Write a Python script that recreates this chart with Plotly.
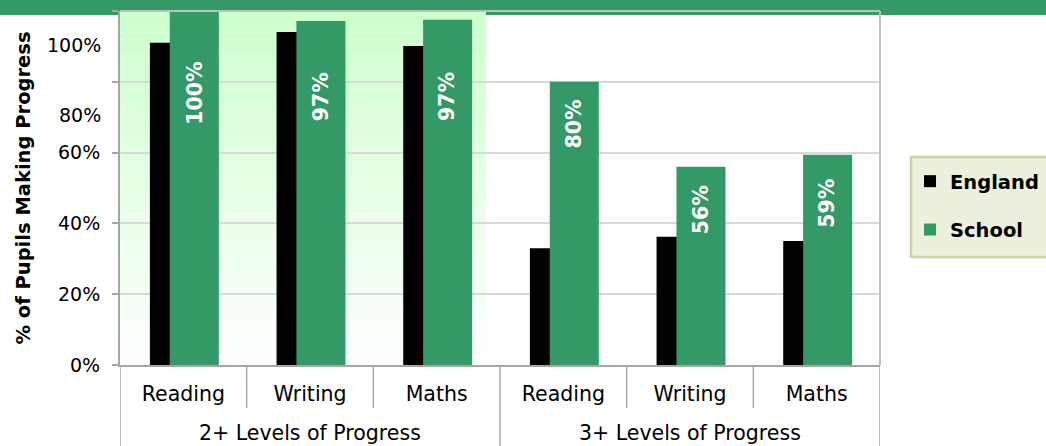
import plotly.graph_objects as go

# ---------------- data ----------------
group_names = ["2+ Levels of Progress", "3+ Levels of Progress"]
groups = ["2+ Levels of Progress"] * 3 + ["3+ Levels of Progress"] * 3
subjects = ["Reading", "Writing", "Maths", "Reading", "Writing", "Maths"]
england = [91.0, 94.1, 90.1, 33.0, 36.2, 35.0]
school = [100, 97.2, 97.5, 80, 56, 59.4]
school_labels = ["100%", "97%", "97%", "80%", "56%", "59%"]
y_tickvals = [0, 20, 40, 60, 80, 100]
y_ticktext = ["0%", "20%", "40%", "60%", "", ""]
shifted_tick_text = ["80%", "100%"]

# ---------------- styles / positions ----------------
FONT = "DejaVu Sans"
GREEN = "#339966"
AXIS_GREY = "#A6A6A6"
BAR_W = 0.387
OFF_E = -0.264
OFF_S = -0.107
label_gap_px = [49, 49, 50, 16, 16, 22]
shifted_tick_pos = [70.6, 90.4]

PLOT_L, PLOT_R, PLOT_T, PLOT_B = 120, 880, 11, 365
W, H = 1046, 446
PW, PH = PLOT_R - PLOT_L, PLOT_B - PLOT_T


def px_x(px):
    return (px - PLOT_L) / PW


def px_y(py):
    return (PLOT_B - py) / PH


pos = list(range(len(subjects)))

fig = go.Figure()
fig.add_bar(x=pos, y=england, name="England", customdata=groups, legendgroup="england",
            marker=dict(color="#000000", line=dict(width=0)),
            width=BAR_W, offset=OFF_E)
fig.add_bar(x=pos, y=school, name="School", customdata=groups, legendgroup="school",
            marker=dict(color=GREEN, line=dict(width=0)),
            width=BAR_W, offset=OFF_S)

shapes = []
# header band
shapes.append(dict(type="rect", xref="paper", yref="paper", layer="below",
                   x0=px_x(-10), x1=px_x(W + 10), y0=px_y(15), y1=px_y(-10),
                   fillcolor=GREEN, line=dict(width=0)))
# gradient behind first group
N = 50
for k in range(N):
    y0 = 100 * k / N
    y1 = 100 * (k + 1) / N
    f = 1 - (y0 + y1) / 200
    c = int(round(204 + 51 * f))
    shapes.append(dict(type="rect", xref="paper", yref="y", layer="below",
                       x0=0, x1=px_x(486), y0=y0, y1=y1,
                       fillcolor=f"rgb({c},255,{c})", line=dict(width=0)))
# top and right border
shapes.append(dict(type="line", xref="paper", yref="paper", x0=0, x1=1, y0=1, y1=1,
                   line=dict(color="#BFBFBF", width=2)))
shapes.append(dict(type="line", xref="paper", yref="paper", x0=1, x1=1, y0=0, y1=1,
                   line=dict(color="#BFBFBF", width=2)))
# category separators and group dividers on the x axis
n = len(subjects)
for k in range(n + 1):
    is_group_edge = k == 0 or k == n or groups[k - 1] != groups[k]
    shapes.append(dict(type="line", xref="x", yref="paper", x0=k - 0.5, x1=k - 0.5,
                       y0=0, y1=px_y(460 if is_group_edge else 408),
                       line=dict(color=AXIS_GREY, width=1.5)))
# legend box
shapes.append(dict(type="rect", xref="paper", yref="paper", layer="below",
                   x0=px_x(911), x1=px_x(1052), y0=px_y(257), y1=px_y(157),
                   fillcolor="#EBF1DE", line=dict(color="#C3D69B", width=2.5)))

annotations = []
for i, (v, t, g) in enumerate(zip(school, school_labels, label_gap_px)):
    annotations.append(dict(x=pos[i] + OFF_S + BAR_W / 2, y=v, xref="x", yref="y",
                            text=t, showarrow=False, textangle=-90,
                            yanchor="top", xanchor="center", yshift=-g,
                            font=dict(family=FONT, size=20.5, color="white", weight="bold")))
for t, p in zip(shifted_tick_text, shifted_tick_pos):
    annotations.append(dict(x=0, y=p, xref="paper", yref="y", text=t, showarrow=False,
                            xanchor="right", yanchor="middle", xshift=-17,
                            font=dict(family=FONT, size=19, color="black")))
for gname in group_names:
    idx = [i for i, g in enumerate(groups) if g == gname]
    annotations.append(dict(x=sum(idx) / len(idx), y=px_y(432.5), xref="x", yref="paper",
                            text=gname, showarrow=False, xanchor="center", yanchor="middle",
                            font=dict(family=FONT, size=20.5, color="black")))

fig.update_layout(
    width=W, height=H,
    margin=dict(l=PLOT_L, r=W - PLOT_R, t=PLOT_T, b=H - PLOT_B, pad=0, autoexpand=False),
    paper_bgcolor="white", plot_bgcolor="rgba(0,0,0,0)",
    barmode="overlay",
    font=dict(family=FONT, color="black"),
    shapes=shapes, annotations=annotations,
    showlegend=True,
    legend=dict(x=px_x(910), xanchor="left", y=px_y(162), yanchor="top",
                bgcolor="rgba(0,0,0,0)", borderwidth=0,
                font=dict(family=FONT, size=19.5, color="black", weight="bold"),
                traceorder="grouped", tracegroupgap=20),
    xaxis=dict(range=[-0.5, n - 0.5], tickvals=pos, ticktext=subjects,
               showline=True, linecolor=AXIS_GREY, linewidth=2, ticks="",
               tickfont=dict(family=FONT, size=20.5, color="black"),
               ticklabelstandoff=9,
               showgrid=False, zeroline=False, fixedrange=True),
    yaxis=dict(range=[0, 100], tickvals=y_tickvals, ticktext=y_ticktext,
               ticks="outside", ticklen=6, tickcolor=AXIS_GREY, tickwidth=1.5,
               showgrid=True, gridcolor="#D9D9D9", gridwidth=1.5,
               zeroline=False, showline=True, linecolor=AXIS_GREY, linewidth=2,
               tickfont=dict(family=FONT, size=19, color="black"),
               ticklabelstandoff=8,
               title=dict(text="% of Pupils Making Progress", standoff=22,
                          font=dict(family=FONT, size=19.5, color="black", weight="bold")),
               fixedrange=True),
)

fig.write_html("out.html", config={"displayModeBar": False},
               post_script="document.body.style.margin='0px';")
